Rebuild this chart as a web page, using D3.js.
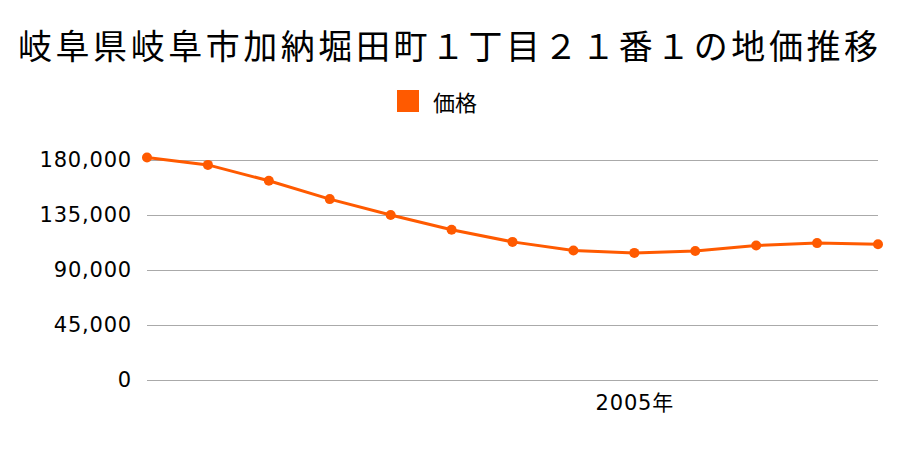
<!DOCTYPE html>
<html><head><meta charset="utf-8">
<script src="https://cdn.jsdelivr.net/npm/d3@7"></script>
<style>body{margin:0;background:#fff}svg{display:block}text{font-family:"Noto Sans CJK JP","Noto Sans",sans-serif}</style>
</head><body><svg id="c" width="900" height="450"></svg>
<script>
const title = "岐阜県岐阜市加納堀田町１丁目２１番１の地価推移";
const seriesName = "価格";
const years = [1997,1998,1999,2000,2001,2002,2003,2004,2005,2006,2007,2008,2009];
const values = [182000,176000,163000,148000,135000,123000,113000,106000,104000,105500,110000,112000,111000];
const yTicks = [0,45000,90000,135000,180000];
const xLabels = [2005];

const svg = d3.select("#c");
const color = "#ff5a00";
const numFont = '"DejaVu Sans","Noto Sans CJK JP",sans-serif';
const x = d3.scaleLinear().domain([years[0], years[years.length-1]]).range([147, 878]);
const y = d3.scaleLinear().domain([0,180000]).range([380,160]);

svg.append("text").attr("x",18).attr("y",44)
  .attr("dominant-baseline","central").attr("font-size",34).attr("fill","#000")
  .attr("textLength",860).attr("lengthAdjust","spacing").text(title);

svg.append("rect").attr("x",397).attr("y",90).attr("width",22).attr("height",22).attr("fill",color);
svg.append("text").attr("x",433).attr("y",101).attr("dominant-baseline","central")
  .attr("font-size",22).attr("fill","#000").text(seriesName);

const yAxis = d3.axisLeft(y).tickValues(yTicks).tickSize(-(878-147)).tickPadding(15)
  .tickFormat(d3.format(","));
const gy = svg.append("g").attr("transform","translate(147,0)").call(yAxis);
gy.select(".domain").remove();
gy.selectAll(".tick line").attr("stroke","#aaa").attr("stroke-width",1);
gy.selectAll(".tick text").attr("font-size",21).attr("fill","#000").attr("x",-15)
  .style("font-family",numFont).attr("letter-spacing",0.8);

const xAxis = d3.axisBottom(x).tickValues(xLabels).tickSize(0).tickPadding(15)
  .tickFormat(d=>d+"年");
const gx = svg.append("g").attr("transform","translate(0,380)").call(xAxis);
gx.select(".domain").remove();
gx.selectAll(".tick text").attr("font-size",21).attr("fill","#000")
  .style("font-family",numFont).attr("letter-spacing",0.8);

const line = d3.line().x((d,i)=>x(years[i])).y(d=>y(d));
svg.append("path").datum(values).attr("d",line).attr("fill","none")
  .attr("stroke",color).attr("stroke-width",3);
svg.selectAll("circle.p").data(values).enter().append("circle").attr("class","p")
  .attr("cx",(d,i)=>x(years[i])).attr("cy",d=>y(d)).attr("r",5).attr("fill",color);
</script></body></html>
